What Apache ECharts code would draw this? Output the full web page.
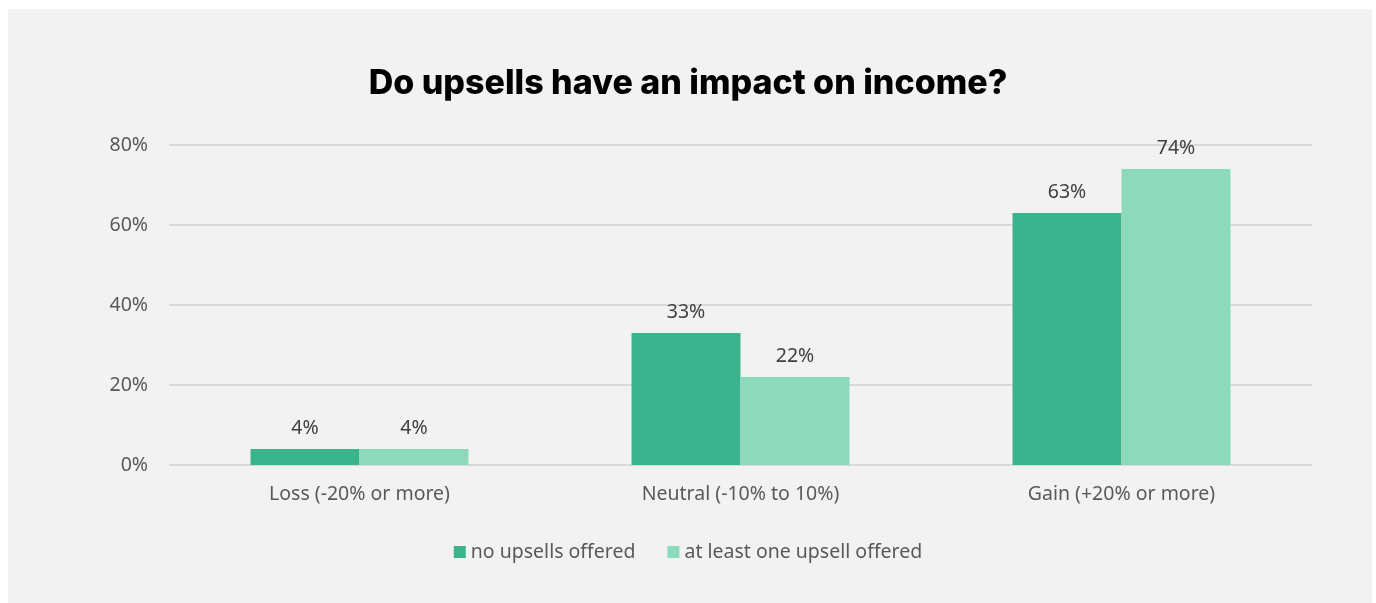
<!DOCTYPE html>
<html>
<head>
<meta charset="utf-8">
<script src="https://cdn.jsdelivr.net/npm/echarts@6/dist/echarts.min.js"></script>
<style>
  html, body { margin: 0; padding: 0; background: #ffffff; }
  #chart { width: 1376px; height: 603px; }
</style>
</head>
<body>
<div id="chart"></div>
<script>
// Income change buckets and share of respondents in each
const categories = ['Loss (-20% or more)', 'Neutral (-10% to 10%)', 'Gain (+20% or more)'];
const seriesNames = ['no upsells offered', 'at least one upsell offered'];
const noUpsells = [4, 33, 63];
const withUpsell = [4, 22, 74];
const yTicks = [0, 20, 40, 60, 80];

const bodyFont = '"Noto Sans", sans-serif';
const bodySize = 19.5;
const chart = echarts.init(document.getElementById('chart'));

const valueLabel = {
  show: true,
  position: 'top',
  distance: 11,
  formatter: '{c}%',
  fontFamily: bodyFont,
  fontSize: bodySize,
  color: '#404040'
};

chart.setOption({
  backgroundColor: '#ffffff',
  animation: false,
  graphic: [{
    type: 'rect',
    z: -10,
    shape: { x: 8, y: 9, width: 1364, height: 594 },
    style: { fill: '#f2f2f2' }
  }],
  title: {
    text: 'Do upsells have an impact on income?',
    left: 'center',
    top: 62,
    textStyle: {
      fontFamily: 'Inter, sans-serif',
      fontWeight: 800,
      fontSize: 34,
      color: '#000000'
    }
  },
  legend: {
    data: seriesNames,
    bottom: 36,
    left: 'center',
    icon: 'rect',
    itemWidth: 12,
    itemHeight: 12,
    itemGap: 32,
    textStyle: { fontFamily: bodyFont, fontSize: bodySize, color: '#595959' }
  },
  grid: { left: 169, right: 64, top: 145, bottom: 138 },
  xAxis: {
    type: 'category',
    data: categories,
    axisTick: { show: false },
    axisLine: { show: false },
    axisLabel: { fontFamily: bodyFont, fontSize: bodySize, color: '#595959', margin: 19 }
  },
  yAxis: {
    type: 'value',
    min: yTicks[0],
    max: yTicks[yTicks.length - 1],
    interval: yTicks[1] - yTicks[0],
    axisLabel: {
      formatter: '{value}%',
      fontFamily: bodyFont,
      fontSize: bodySize,
      color: '#595959',
      margin: 21
    },
    splitLine: { lineStyle: { color: '#d9d9d9', width: 2 } }
  },
  series: [
    {
      name: seriesNames[0],
      type: 'bar',
      data: noUpsells,
      barWidth: '28.6%',
      barGap: '0%',
      itemStyle: { color: '#3bb38d' },
      label: valueLabel
    },
    {
      name: seriesNames[1],
      type: 'bar',
      data: withUpsell,
      barWidth: '28.6%',
      barGap: '0%',
      itemStyle: { color: '#8dd9bb' },
      label: valueLabel
    }
  ]
});
</script>
</body>
</html>
